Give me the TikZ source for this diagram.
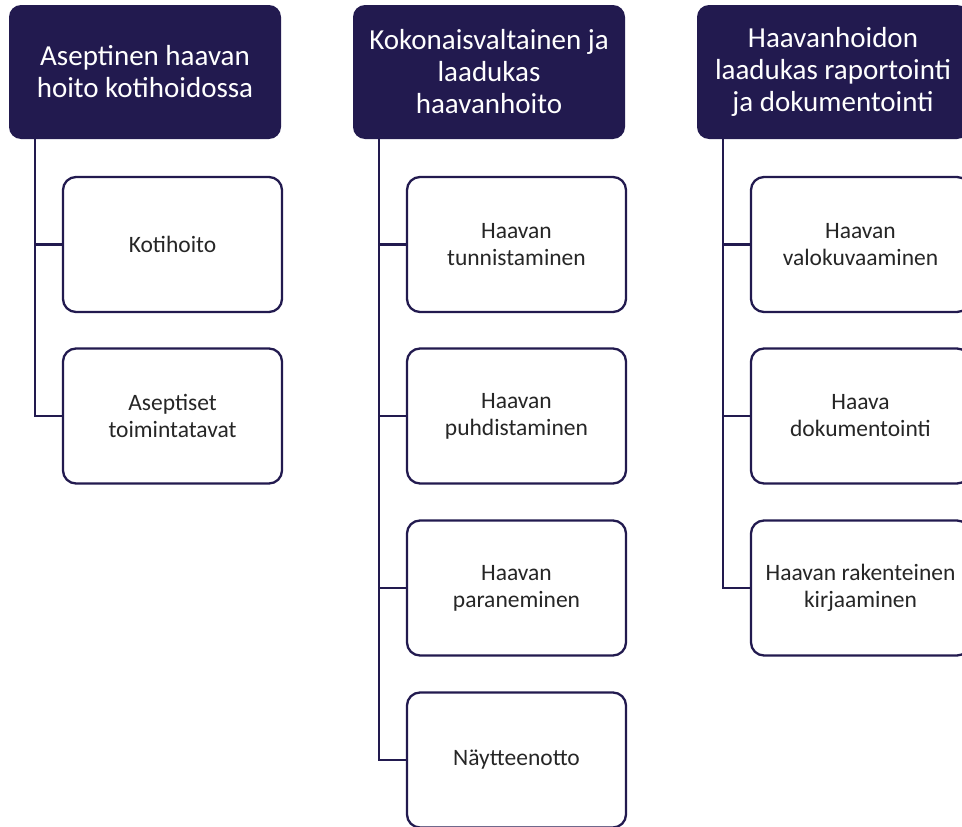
\documentclass[tikz,border=0pt]{standalone}
\usepackage{fontspec}
\setmainfont{Carlito}
\definecolor{navy}{HTML}{221A4F}
\definecolor{txt}{HTML}{262626}
\tikzset{
  head/.style={rounded corners=12pt, fill=navy, text=white, minimum width=272pt, minimum height=134pt, align=center, inner sep=0pt, font=\fontsize{29}{32}\selectfont},
  child/.style={rounded corners=13pt, draw=navy, line width=2.3pt, fill=white, text=txt, minimum width=219pt, minimum height=135pt, align=center, inner sep=0pt, font=\fontsize{23.5}{27}\selectfont},
  conn/.style={draw=navy, line width=2.5pt}
}
\begin{document}
\begin{tikzpicture}[x=1pt,y=-1pt]
\useasboundingbox (0,0) rectangle (962,827);
\clip (0,0) rectangle (962,827);
% headers
\node[head] (h1) at (145,72) {Aseptinen haavan\\hoito kotihoidossa};
\node[head] (h2) at (489,72) {Kokonaisvaltainen ja\\laadukas\\haavanhoito};
\node[head] (h3) at (833,72) {Haavanhoidon\\laadukas raportointi\\ja dokumentointi};
% trunk coordinates
\coordinate (t1) at (35,0);
\coordinate (t2) at (379,0);
\coordinate (t3) at (723,0);
% children
\node[child] (c11) at (172.5,244.5) {Kotihoito};
\node[child] (c12) at (172.5,416) {Aseptiset\\toimintatavat};
\node[child] (c21) at (516.5,244.5) {Haavan\\tunnistaminen};
\node[child] (c22) at (516.5,416) {Haavan\\puhdistaminen};
\node[child] (c23) at (516.5,588) {Haavan\\paraneminen};
\node[child] (c24) at (516.5,760) {Näytteenotto};
\node[child] (c31) at (860.5,244.5) {Haavan\\valokuvaaminen};
\node[child] (c32) at (860.5,416) {Haava\\dokumentointi};
\node[child] (c33) at (860.5,588) {Haavan rakenteinen\\kirjaaminen};
% connectors
\draw[conn] (t1 |- h1.south) |- (c12.west);
\draw[conn] (t1 |- c11.west) -- (c11.west);
\draw[conn] (t2 |- h2.south) |- (c24.west);
\draw[conn] (t2 |- c21.west) -- (c21.west);
\draw[conn] (t2 |- c22.west) -- (c22.west);
\draw[conn] (t2 |- c23.west) -- (c23.west);
\draw[conn] (t3 |- h3.south) |- (c33.west);
\draw[conn] (t3 |- c31.west) -- (c31.west);
\draw[conn] (t3 |- c32.west) -- (c32.west);
\end{tikzpicture}
\end{document}
